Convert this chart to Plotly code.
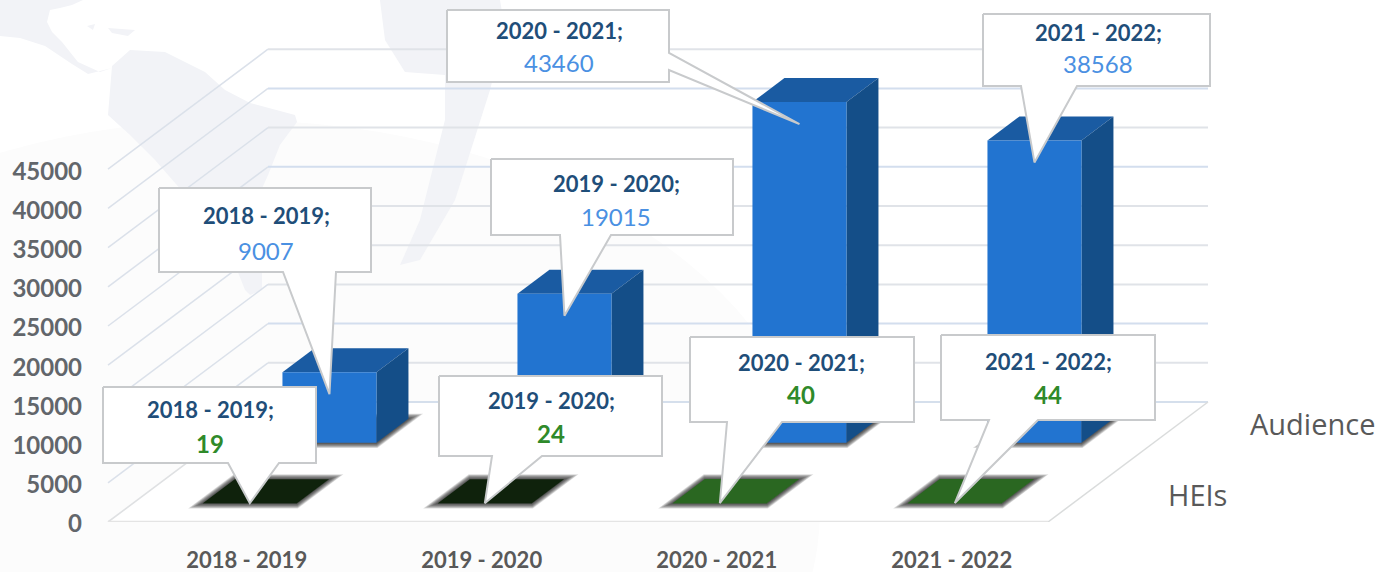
import plotly.graph_objects as go

# ---------- data ----------
categories = ["2018 - 2019", "2019 - 2020", "2020 - 2021", "2021 - 2022"]
audience = [9007, 19015, 43460, 38568]
heis = [19, 24, 40, 44]
series_names = ["HEIs", "Audience"]
y_ticks = [0, 5000, 10000, 15000, 20000, 25000, 30000, 35000, 40000, 45000]

# ---------- geometry of the oblique projection ----------
W, H = 1378, 572
ML, MB = 83, 50
PX_X0, PX_Y0 = 108, 522      # front-left corner of the floor
PX_PER_CAT = 235
PX_PER_VAL = 39.2 / 5000
DEPTH_DX, DEPTH_DY = 160, 120
BAR_W = 0.4
ROW_DEPTH = {"HEIs": 0.155, "Audience": 0.66}
ROW_SHIFT = {"HEIs": -0.002, "Audience": -0.007}
BAR_DEPTH = 0.2


def ux(px):
    return (px - PX_X0) / PX_PER_CAT


def uy(py):
    return (PX_Y0 - py) / PX_PER_VAL


def proj(cat, value, depth):
    return cat + depth * DEPTH_DX / PX_PER_CAT, value + depth * DEPTH_DY / PX_PER_VAL


def pxx(px):
    return (px - ML) / (W - ML)


def pxy(py):
    return 1 - py / (H - MB)


fig = go.Figure()


def poly(points, fill=None, line=None, width=0):
    xs = [p[0] for p in points]
    ys = [p[1] for p in points]
    fig.add_trace(go.Scatter(
        x=xs, y=ys, mode="lines", fill="toself",
        fillcolor=fill or "rgba(0,0,0,0)",
        line=dict(color=line or "rgba(0,0,0,0)", width=width, shape="linear", simplify=False),
        hoverinfo="skip", showlegend=False))


n = len(categories)
# floor
poly([proj(0, 0, 0), proj(n, 0, 0), proj(n, 0, 1), proj(0, 0, 1), proj(0, 0, 0)],
     fill="rgba(255,255,255,0.85)")
# walls
for i, v in enumerate(y_ticks):
    if v > 0:
        poly([proj(0, v, 0), proj(0, v, 1)], line="#dbe1ea", width=1.5)
        poly([proj(0, v, 1), proj(n, v, 1)],
             line="#d3deee" if v in (10000, 40000, 30000) else "#e0e3e8", width=2)
poly([proj(0, 0, 0), proj(0, 0, 1)], line="#dfe1e3", width=1.6)
poly([proj(0, 0, 1), proj(n, 0, 1)], line="#d5dfec", width=2)
poly([proj(n, 0, 1), proj(n, 0, 0)], line="#dadcdc", width=1.5)
poly([proj(0, 0, 0), proj(n, 0, 0)], line="#e4e4e4", width=2.5)

SHADOW_STEPS = [6, 5.25, 4.5, 3.75, 3, 2.25, 1.5, 0.75]


def shadow(c, d):
    """Soft shadow: stacked translucent copies of the footprint, each grown a little."""
    l, r = c + (1 - BAR_W) / 2, c + (1 + BAR_W) / 2
    for e in SHADOW_STEPS:
        ex = 1.3 * e / PX_PER_CAT
        ey = 0.85 * e / PX_PER_VAL
        a = proj(l, 0, d)
        b = proj(r, 0, d)
        g = proj(r, 0, d + BAR_DEPTH)
        h = proj(l, 0, d + BAR_DEPTH)
        skew = ey / DEPTH_DY * PX_PER_VAL * DEPTH_DX / PX_PER_CAT
        poly([(a[0] - ex - skew, a[1] - ey), (b[0] + ex - skew, b[1] - ey),
              (g[0] + ex + skew, g[1] + ey), (h[0] - ex + skew, h[1] + ey),
              (a[0] - ex - skew, a[1] - ey)],
             fill="rgba(20,20,20,0.14)")


def bar(c, value, d, front, top, side):
    l, r = c + (1 - BAR_W) / 2, c + (1 + BAR_W) / 2
    e = d + BAR_DEPTH
    poly([proj(l, value, d), proj(r, value, d), proj(r, value, e), proj(l, value, e), proj(l, value, d)],
         fill=top)
    poly([proj(r, 0, d), proj(r, 0, e), proj(r, value, e), proj(r, value, d), proj(r, 0, d)],
         fill=side)
    poly([proj(l, 0, d), proj(r, 0, d), proj(r, value, d), proj(l, value, d), proj(l, 0, d)],
         fill=front)


# Audience row behind HEIs row
for i, v in enumerate(audience):
    c = i + ROW_SHIFT["Audience"]
    shadow(c, ROW_DEPTH["Audience"])
    bar(c, v, ROW_DEPTH["Audience"], "#2274d0", "#1a5ba2", "#144e88")
HEI_COLORS = ["#0f220c", "#0f220c", "#2a6721", "#2a6721"]
for i, v in enumerate(heis):
    c = i + ROW_SHIFT["HEIs"]
    shadow(c, ROW_DEPTH["HEIs"])
    bar(c, v, ROW_DEPTH["HEIs"], HEI_COLORS[i], HEI_COLORS[i], HEI_COLORS[i])

# ---------- callouts (box in pixels, tip follows the data) ----------
AUD_BOXES = [(159, 371, 188, 272), (491, 733, 159, 235), (447, 669, 10, 82), (983, 1210, 14, 86)]
AUD_BASE = [("b", 283, 336), ("b", 560, 611), ("r", 53, 70), ("b", 1021, 1077)]
HEI_BOXES = [(103, 316, 387, 463), (439, 662, 376, 456), (690, 914, 337, 422), (941, 1155, 335, 420)]
HEI_BASE = [("b", 228, 279), ("b", 492, 542), ("b", 727, 782), ("b", 989, 1038)]
TIP_DROP = 22  # pixels below the top front edge for tall bars
# text placement inside each callout: centre x, title y, value y (pixels)
AUD_TEXT = [(266, 216, 250), (616, 183, 217), (559, 30, 62), (1098, 33, 63)]
HEI_TEXT = [(210, 409, 443), (551, 400, 433), (801, 362, 394), (1048, 361, 394)]


def callout(box, base, tip):
    x0, x1, y0, y1 = box
    side, a, b = base
    if side == "b":
        pts = [(x0, y0), (x1, y0), (x1, y1), (b, y1), tip, (a, y1), (x0, y1), (x0, y0)]
    else:
        pts = [(x0, y0), (x1, y0), (x1, a), tip, (x1, b), (x1, y1), (x0, y1), (x0, y0)]
    data = [p if p is tip else (ux(p[0]), uy(p[1])) for p in pts]
    poly(data, fill="#ffffff", line="#c8cacc", width=2)


annotations = []


def label(px, py, text, size, color, bold=True, family="Lato"):
    annotations.append(dict(
        x=pxx(px), y=pxy(py), xref="paper", yref="paper", xanchor="center", yanchor="middle",
        text=text, showarrow=False,
        font=dict(family=family, size=size, color=color, weight=700 if bold else 400)))


for i, v in enumerate(audience):
    tx, ty = proj(i + 0.5 + ROW_SHIFT["Audience"], v - TIP_DROP / PX_PER_VAL, ROW_DEPTH["Audience"])
    callout(AUD_BOXES[i], AUD_BASE[i], (tx, ty))
for i, v in enumerate(heis):
    tx, ty = proj(i + 0.5 + ROW_SHIFT["HEIs"], v, ROW_DEPTH["HEIs"])
    callout(HEI_BOXES[i], HEI_BASE[i], (tx, ty))

for i, v in enumerate(audience):
    cx, ty, vy = AUD_TEXT[i]
    label(cx, ty, categories[i] + ";", 22, "#1f4e79")
    label(cx, vy, str(v), 24, "#4a90e2", bold=False)
for i, v in enumerate(heis):
    cx, ty, vy = HEI_TEXT[i]
    label(cx, ty, categories[i] + ";", 22, "#1f4e79")
    label(cx, vy, str(v), 24, "#2f8a2a")

# series labels on the depth axis
label(1312, 423, series_names[1], 29, "#595959", bold=False, family="Open Sans")
label(1197, 494, series_names[0], 29, "#595959", bold=False, family="Open Sans")


# ---------- watermark background ----------
def path(pts):
    return "M" + " L".join(f"{pxx(x):.4f},{pxy(y):.4f}" for x, y in pts) + " Z"


GREY = "#f2f3f7"
shapes = [
    dict(type="circle", xref="paper", yref="paper", x0=pxx(-350), x1=pxx(820), y0=pxy(900), y1=pxy(120),
         fillcolor="#fcfcfc", line_width=0, layer="below"),
]
for pts in [
    [(0, 0), (83, 0), (72, 5), (60, 8), (50, 10), (47, 22), (52, 32), (62, 42), (78, 62), (100, 72), (112, 68),
     (88, 74), (72, 64), (45, 46), (20, 38), (0, 36)],
    [(87, 26), (95, 24), (93, 30)],
    [(108, 28), (135, 30), (128, 36), (112, 33)],
    [(112, 66), (130, 50), (165, 52), (205, 72), (225, 90), (250, 103), (295, 115), (297, 122), (280, 145),
     (268, 175), (250, 215), (235, 255), (215, 245), (190, 200), (155, 160), (130, 135), (108, 115)],
    [(380, 0), (500, 0), (505, 30), (490, 90), (455, 200), (420, 260), (400, 265), (420, 220), (445, 120),
     (445, 75), (405, 72), (385, 40)],
    [(245, 290), (235, 265), (262, 250), (262, 290), (250, 295)],
]:
    shapes.append(dict(type="path", path=path(pts), xref="paper", yref="paper",
                       fillcolor=GREY, line_width=0, layer="below"))

fig.update_layout(
    width=W, height=H, autosize=False,
    margin=dict(l=ML, r=0, t=0, b=MB, autoexpand=False),
    paper_bgcolor="#ffffff", plot_bgcolor="rgba(0,0,0,0)",
    showlegend=False, annotations=annotations, shapes=shapes,
    xaxis=dict(
        range=[ux(ML), ux(W)], showgrid=False, zeroline=False, showline=False,
        tickmode="array", tickvals=[i + 0.59 for i in range(n)], ticktext=categories,
        ticks="outside", ticklen=19, tickcolor="rgba(0,0,0,0)",
        tickfont=dict(family="Lato", size=22, color="#595959", weight=700)),
    yaxis=dict(
        range=[0, uy(0)], showgrid=False, zeroline=False, showline=False,
        tickmode="array", tickvals=y_ticks, ticktext=[str(t) for t in y_ticks],
        ticklabelshift=2,
        tickfont=dict(family="Lato", size=24, color="#62666b", weight=700)),
)

fig.write_html("out.html", config=dict(displayModeBar=False),
               post_script="document.body.style.margin='0';document.body.style.overflow='hidden';")
